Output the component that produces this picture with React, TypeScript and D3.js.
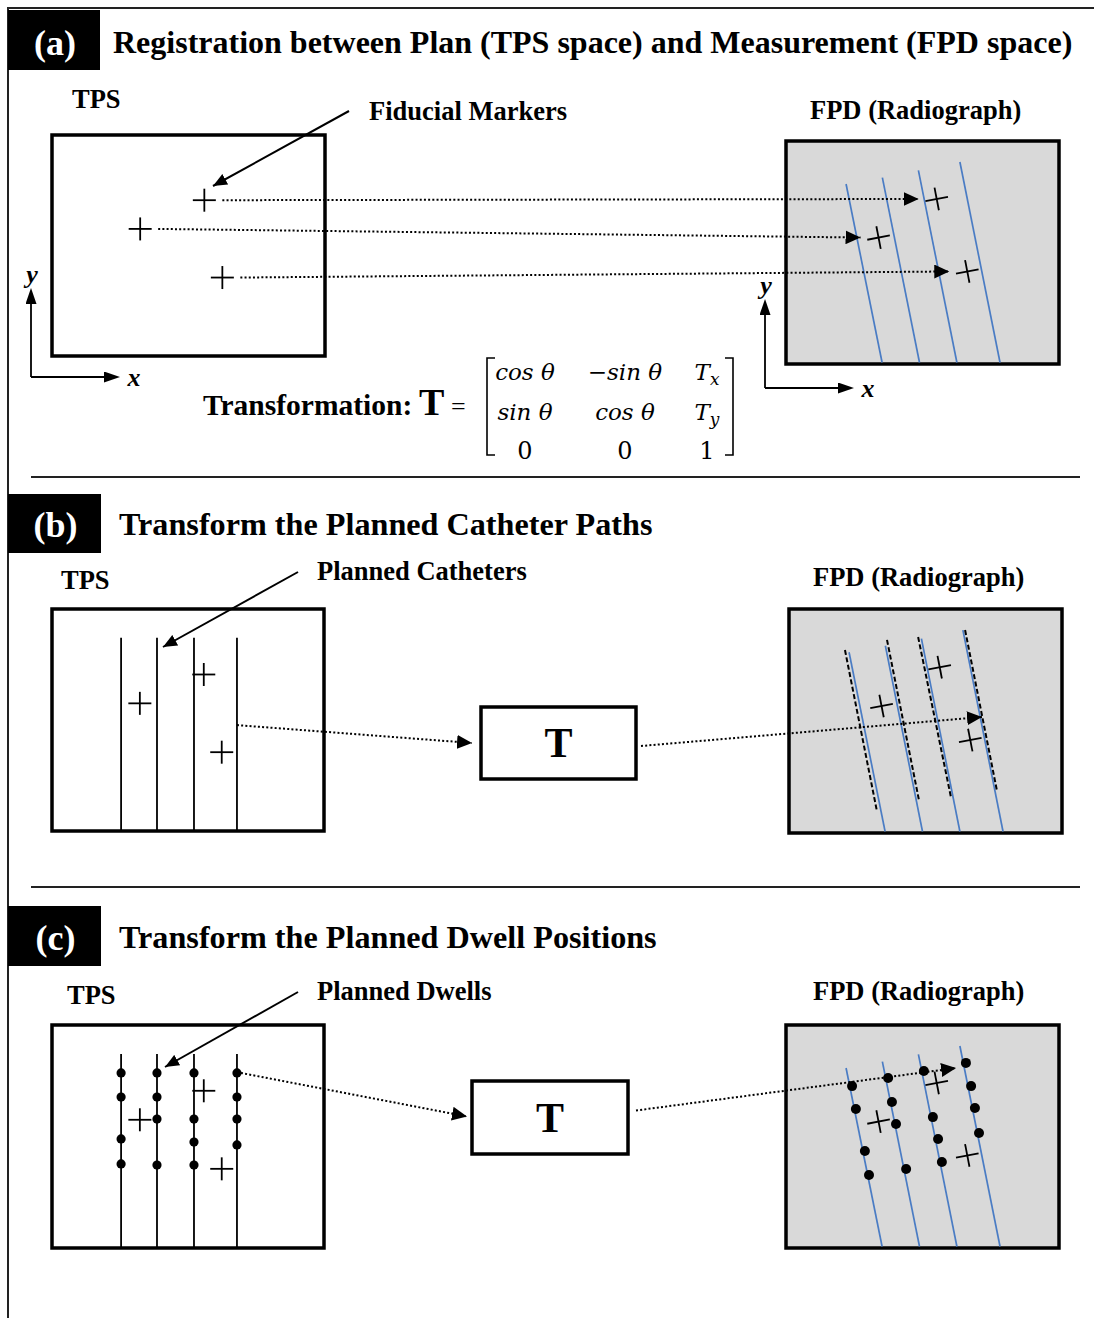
import React from "react";
import * as d3 from "d3";

const W = 1094;
const H = 1318;

const panelLetters = ["(a)", "(b)", "(c)"];
const panelTitles = [
  "Registration between Plan (TPS space) and Measurement (FPD space)",
  "Transform the Planned Catheter Paths",
  "Transform the Planned Dwell Positions",
];
const calloutLabels = ["Fiducial Markers", "Planned Catheters", "Planned Dwells"];
const tpsLabel = "TPS";
const fpdLabel = "FPD (Radiograph)";

// everything inside a box is in box units: 0-100 across, 0-100 down
const tpsFiducials: [number, number][] = [[55.8, 29.5], [32.3, 42.5], [62.4, 64.5]];
const fpdFiducials: [number, number][] = [[55.2, 26.0], [33.9, 43.3], [66.4, 58.5]];

const tpsCatheterX = [25.4, 38.6, 52.2, 68.0];
const tpsCatheterTop = 13;

// measured catheters on the radiograph (blue)
const fpdCatheterTop: [number, number][] = [[22.0, 19.3], [35.3, 16.4], [48.5, 13.2], [63.7, 9.4]];
const fpdCatheterBottom: [number, number][] = [[35.2, 100], [48.9, 100], [62.6, 100], [78.4, 100]];

// planned catheters after applying T (black dashed)
const mappedCatheterStart: [number, number][] = [[20.5, 18.3], [35.9, 13.8], [47.3, 12.5], [64.5, 9.4]];
const mappedCatheterEnd: [number, number][] = [[32.2, 90.2], [47.6, 85.3], [59.3, 83.9], [76.2, 81.3]];

// planned dwell positions along each TPS catheter (y only)
const tpsDwells = [
  [21.5, 32.3, 51.1, 62.3],
  [21.5, 32.3, 42.2, 62.8],
  [21.5, 42.2, 52.5, 62.8],
  [21.5, 32.3, 42.2, 53.8],
];
// the same dwells mapped to the radiograph
const fpdDwells: [number, number][][] = [
  [[24.2, 27.4], [25.6, 37.7], [28.9, 56.5], [30.4, 67.3]],
  [[37.4, 23.8], [38.8, 34.5], [40.3, 44.4], [44.0, 64.6]],
  [[50.5, 20.6], [53.8, 41.3], [55.7, 51.1], [57.1, 61.4]],
  [[65.9, 17.0], [67.8, 27.4], [69.2, 37.2], [70.7, 48.4]],
];

// where the catheter / dwell arrows start in TPS and land on the radiograph
const transferSourceB: [number, number] = [68.0, 52.3];
const transferTargetB: [number, number] = [70.7, 48.2];
const transferTargetC: [number, number] = [62.3, 19.3];

const matrixRows = [
  ["cos θ", "−sin θ", "T", "x"],
  ["sin θ", "cos θ", "T", "y"],
  ["0", "0", "1", ""],
];

// ---- layout ----
const SERIF = "'Liberation Serif', 'Times New Roman', serif";
const MATH = "'DejaVu Serif', serif";
const BLUE = "#4a7cc4";
const GREY = "#d9d9d9";
const LABEL = 26.5;

type Box = [number, number, number, number];

const layout = [
  {
    letterBox: [8, 10, 100, 70], letterY: 55, titleX: 113, titleY: 53,
    tpsLabel: [72, 108], calloutXY: [369, 120], callout: [349, 111, 213, 186],
    fpdLabel: [810, 119], tps: [52, 135, 325, 356] as Box, fpd: [786, 141, 1059, 364] as Box,
  },
  {
    letterBox: [8, 494, 101, 553], letterY: 537, titleX: 119, titleY: 535,
    tpsLabel: [61, 589], calloutXY: [317, 580], callout: [298, 572, 163, 647],
    fpdLabel: [813, 586], tps: [52, 609, 324, 831] as Box, fpd: [789, 609, 1062, 833] as Box,
    tBox: [481, 707, 636, 779] as Box,
  },
  {
    letterBox: [8, 906, 101, 966], letterY: 950, titleX: 119, titleY: 948,
    tpsLabel: [67, 1004], calloutXY: [317, 1000], callout: [298, 992, 165, 1067],
    fpdLabel: [813, 1000], tps: [52, 1025, 324, 1248] as Box, fpd: [786, 1025, 1059, 1248] as Box,
    tBox: [472, 1081, 628, 1154] as Box,
  },
];

const scalesFor = (b: Box) => ({
  x: d3.scaleLinear().domain([0, 100]).range([b[0], b[2]]),
  y: d3.scaleLinear().domain([0, 100]).range([b[1], b[3]]),
});

const line = d3.line<[number, number]>();

const Cross = ({ x, y, r = 11.5, rot = 0 }: { x: number; y: number; r?: number; rot?: number }) => (
  <g transform={`translate(${x},${y}) rotate(${rot})`} stroke="#000" strokeWidth={1.8}>
    <line x1={-r} x2={r} y1={0} y2={0} />
    <line x1={0} x2={0} y1={-r} y2={r} />
  </g>
);

const Dotted = ({ p, q }: { p: [number, number]; q: [number, number] }) => (
  <path d={line([p, q]) || ""} stroke="#000" strokeWidth={2} strokeDasharray="2,2.2" fill="none" markerEnd="url(#head)" />
);

const Frame = ({ b, fill = "#fff" }: { b: Box; fill?: string }) => (
  <rect x={b[0]} y={b[1]} width={b[2] - b[0]} height={b[3] - b[1]} fill={fill} stroke="#000" strokeWidth={3.5} />
);

const Header = ({ i }: { i: number }) => {
  const L = layout[i];
  const [x0, y0, x1, y1] = L.letterBox;
  return (
    <g>
      <rect x={x0} y={y0} width={x1 - x0} height={y1 - y0} fill="#000" />
      <text x={(x0 + x1) / 2 + 1} y={L.letterY} fill="#fff" fontSize={36} fontWeight="bold" textAnchor="middle">
        {panelLetters[i]}
      </text>
      <text x={L.titleX} y={L.titleY} fontSize={i === 0 ? 32 : 32.2} fontWeight="bold">
        {panelTitles[i]}
      </text>
      <text x={L.tpsLabel[0]} y={L.tpsLabel[1]} fontSize={LABEL} fontWeight="bold">{tpsLabel}</text>
      <text x={L.fpdLabel[0]} y={L.fpdLabel[1]} fontSize={LABEL} fontWeight="bold">{fpdLabel}</text>
      <text x={L.calloutXY[0]} y={L.calloutXY[1]} fontSize={LABEL} fontWeight="bold">{calloutLabels[i]}</text>
    </g>
  );
};

// drawn after the boxes so the arrow is not covered by their fill
const Callout = ({ i }: { i: number }) => {
  const c = layout[i].callout;
  return (
    <path d={line([[c[0], c[1]], [c[2], c[3]]]) || ""} stroke="#000" strokeWidth={2} markerEnd="url(#headSmall)" />
  );
};

const Axes = ({ ox, oy, len }: { ox: number; oy: number; len: number }) => (
  <g>
    <path d={`M${ox},${oy}V${oy - len + 15}`} stroke="#000" strokeWidth={1.8} markerEnd="url(#axisHead)" />
    <path d={`M${ox},${oy}H${ox + len - 15}`} stroke="#000" strokeWidth={1.8} markerEnd="url(#axisHead)" />
    <text x={ox + 1} y={oy - len - 5} fontSize={26} fontWeight="bold" fontStyle="italic" textAnchor="middle">y</text>
    <text x={ox + len + 14} y={oy + 9} fontSize={26} fontWeight="bold" fontStyle="italic" textAnchor="middle">x</text>
  </g>
);

const BlueCatheters = ({ s }: { s: ReturnType<typeof scalesFor> }) => (
  <g stroke={BLUE} strokeWidth={1.7}>
    {fpdCatheterTop.map((t, i) => (
      <path key={i} d={line([[s.x(t[0]), s.y(t[1])], [s.x(fpdCatheterBottom[i][0]), s.y(fpdCatheterBottom[i][1]) - 1.5]]) || ""} />
    ))}
  </g>
);

const TBox = ({ b }: { b: Box }) => (
  <g>
    <Frame b={b} />
    <text x={(b[0] + b[2]) / 2} y={(b[1] + b[3]) / 2 + 14} fontSize={42} fontWeight="bold" textAnchor="middle">T</text>
  </g>
);

const Matrix = () => {
  const colX = [525, 625, 707];
  const rowY = d3.scalePoint<number>().domain([0, 1, 2]).range([380, 459]);
  return (
    <g>
      <text x={203} y={415} fontSize={29.5} fontWeight="bold">Transformation:</text>
      <text x={419} y={415} fontSize={38} fontWeight="bold">T</text>
      <text x={451} y={415} fontSize={26}>=</text>
      <path d="M495,358H487V455H495" fill="none" stroke="#000" strokeWidth={1.6} />
      <path d="M725,358H733V455H725" fill="none" stroke="#000" strokeWidth={1.6} />
      {matrixRows.map((row, r) =>
        [0, 1, 2].map((c) => {
          const isNum = row[c] === "0" || row[c] === "1";
          return (
            <text key={`${r}-${c}`} x={colX[c]} y={rowY(r)} textAnchor="middle" fontFamily={MATH}
              style={{ fontSize: isNum ? 24 : 23, fontStyle: isNum ? "normal" : "italic" }}>
              {row[c]}
              {c === 2 && row[3] ? <tspan style={{ fontSize: 17 }} dy={5}>{row[3]}</tspan> : null}
            </text>
          );
        })
      )}
    </g>
  );
};

const PanelA = () => {
  const L = layout[0];
  const t = scalesFor(L.tps);
  const f = scalesFor(L.fpd);
  return (
    <g>
      <Header i={0} />
      <Frame b={L.tps} />
      <Frame b={L.fpd} fill={GREY} />
      <BlueCatheters s={f} />
      {tpsFiducials.map((p, i) => <Cross key={i} x={t.x(p[0])} y={t.y(p[1])} />)}
      {fpdFiducials.map((p, i) => <Cross key={i} x={f.x(p[0])} y={f.y(p[1])} rot={-11} />)}
      {tpsFiducials.map((p, i) => (
        <Dotted key={i} p={[t.x(p[0]) + 18, t.y(p[1])]} q={[f.x(fpdFiducials[i][0]) - 18, f.y(fpdFiducials[i][1])]} />
      ))}
      <Callout i={0} />
      <Axes ox={31} oy={377} len={89} />
      <Axes ox={765} oy={388} len={89} />
      <Matrix />
    </g>
  );
};

const TpsCatheters = ({ s }: { s: ReturnType<typeof scalesFor> }) => (
  <g stroke="#000" strokeWidth={1.8}>
    {tpsCatheterX.map((x, i) => (
      <path key={i} d={line([[s.x(x), s.y(tpsCatheterTop)], [s.x(x), s.y(100)]]) || ""} />
    ))}
  </g>
);

const PanelB = () => {
  const L = layout[1];
  const t = scalesFor(L.tps);
  const f = scalesFor(L.fpd);
  const tb = L.tBox!;
  const mid = (tb[1] + tb[3]) / 2;
  return (
    <g>
      <Header i={1} />
      <Frame b={L.tps} />
      <TpsCatheters s={t} />
      {tpsFiducials.map((p, i) => <Cross key={i} x={t.x(p[0])} y={t.y(p[1])} />)}
      <Frame b={L.fpd} fill={GREY} />
      <BlueCatheters s={f} />
      <g stroke="#000" strokeWidth={2} strokeDasharray="5,2.5">
        {mappedCatheterStart.map((p, i) => (
          <path key={i} d={line([[f.x(p[0]), f.y(p[1])], [f.x(mappedCatheterEnd[i][0]), f.y(mappedCatheterEnd[i][1])]]) || ""} />
        ))}
      </g>
      {fpdFiducials.map((p, i) => <Cross key={i} x={f.x(p[0])} y={f.y(p[1])} rot={-11} />)}
      <Dotted p={[t.x(transferSourceB[0]), t.y(transferSourceB[1])]} q={[tb[0] - 9, mid]} />
      <TBox b={tb} />
      <Dotted p={[tb[2] + 5, mid + 3]} q={[f.x(transferTargetB[0]), f.y(transferTargetB[1])]} />
      <Callout i={1} />
    </g>
  );
};

const PanelC = () => {
  const L = layout[2];
  const t = scalesFor(L.tps);
  const f = scalesFor(L.fpd);
  const tb = L.tBox!;
  const mid = (tb[1] + tb[3]) / 2;
  const src = tpsDwells[3][0];
  return (
    <g>
      <Header i={2} />
      <Frame b={L.tps} />
      <TpsCatheters s={t} />
      {tpsDwells.map((col, i) =>
        col.map((y, j) => <circle key={`${i}-${j}`} cx={t.x(tpsCatheterX[i])} cy={t.y(y)} r={4.6} fill="#000" />)
      )}
      {tpsFiducials.map((p, i) => <Cross key={i} x={t.x(p[0])} y={t.y(p[1])} />)}
      <Frame b={L.fpd} fill={GREY} />
      <BlueCatheters s={f} />
      {fpdDwells.map((col, i) =>
        col.map((p, j) => <circle key={`${i}-${j}`} cx={f.x(p[0])} cy={f.y(p[1])} r={5} fill="#000" />)
      )}
      {fpdFiducials.map((p, i) => <Cross key={i} x={f.x(p[0])} y={f.y(p[1])} rot={-11} />)}
      <Dotted p={[t.x(tpsCatheterX[3]) + 4, t.y(src)]} q={[tb[0] - 5, mid - 1]} />
      <TBox b={tb} />
      <Dotted p={[tb[2] + 8, mid - 7]} q={[f.x(transferTargetC[0]), f.y(transferTargetC[1])]} />
      <Callout i={2} />
    </g>
  );
};

export default function App() {
  return (
    <div style={{ position: "absolute", left: 0, top: 0 }}>
      <svg width={W} height={H} viewBox={`0 0 ${W} ${H}`} style={{ display: "block", background: "#fff" }} fontFamily={SERIF}>
        <defs>
          <marker id="head" markerUnits="userSpaceOnUse" markerWidth={16} markerHeight={14} refX={15} refY={7} orient="auto">
            <path d="M0,0L15,7L0,14Z" fill="#000" />
          </marker>
          <marker id="headSmall" markerUnits="userSpaceOnUse" markerWidth={16} markerHeight={12} refX={14} refY={6} orient="auto">
            <path d="M0,0L14,6L0,12Z" fill="#000" />
          </marker>
          <marker id="axisHead" markerUnits="userSpaceOnUse" markerWidth={17} markerHeight={11} refX={1} refY={5.5} orient="auto">
            <path d="M0,0L16,5.5L0,11Z" fill="#000" />
          </marker>
        </defs>
        <path d={`M8,${H}V8H${W}`} fill="none" stroke="#222" strokeWidth={2} />
        <path d="M31,477H1080M31,887H1080" stroke="#222" strokeWidth={2} />
        <PanelA />
        <PanelB />
        <PanelC />
      </svg>
    </div>
  );
}
